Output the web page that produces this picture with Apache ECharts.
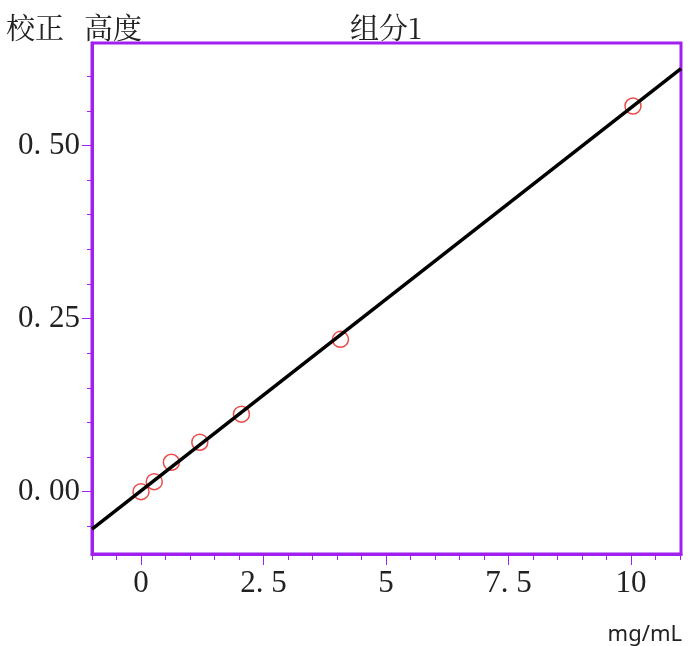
<!DOCTYPE html>
<html>
<head>
<meta charset="utf-8">
<script src="https://cdn.jsdelivr.net/npm/echarts@6/dist/echarts.min.js"></script>
<style>
html,body{margin:0;padding:0;background:#fff;}
#chart{width:690px;height:646px;}
</style>
</head>
<body>
<div id="chart"></div>
<script>
// ---- data ----
const concentration = [0, 0.27, 0.62, 1.2, 2.05, 4.07, 10.04];
const peakHeight = [0, 0.0145, 0.0425, 0.0714, 0.112, 0.220, 0.557];
const fitX = [-1, 11.02];
const fitY = [-0.054, 0.611];

const xMajorTicks = [0, 2.5, 5, 7.5, 10];
const xTickLabels = ['0', '2. 5', '5', '7. 5', '10'];
const xMinorTicks = [-1, -0.5, 0.5, 1, 1.5, 2, 3, 3.5, 4, 4.5, 5.5, 6, 6.5, 7, 8, 8.5, 9, 9.5, 10.5, 11];
const yMajorTicks = [0, 0.25, 0.5];
const yTickLabels = ['0. 00', '0. 25', '0. 50'];
const yMinorTicks = [-0.05, 0.05, 0.1, 0.15, 0.2, 0.3, 0.35, 0.4, 0.45, 0.55, 0.6];

const titleLeftA = '校正';
const titleLeftB = '高度';
const titleCenter = '组分1';
const unitLabel = 'mg/mL';

// ---- styles ----
const PURPLE = '#a020f0';
const xMin = -1, xMax = 11.02;
const yMin = -0.09, yMax = 0.648;
const tickFont = {fontFamily: '"Liberation Serif", "DejaVu Serif", serif', fontSize: 31, color: '#222'};
const cjkFont = '"Noto Serif CJK SC", "Noto Sans CJK SC", serif';

function labelFor(values, labels) {
  return function (v) {
    for (let i = 0; i < values.length; i++) {
      if (Math.abs(values[i] - v) < 1e-9) return labels[i];
    }
    return '';
  };
}

const chart = echarts.init(document.getElementById('chart'), null, {renderer: 'canvas'});
chart.setOption({
  animation: false,
  backgroundColor: '#fff',
  title: [
    {text: titleLeftA, left: 1, top: 8, textStyle: {fontFamily: cjkFont, fontSize: 29, fontWeight: 'normal', color: '#222'}},
    {text: titleLeftB, left: 79, top: 8, textStyle: {fontFamily: cjkFont, fontSize: 29, fontWeight: 'normal', color: '#222'}},
    {text: titleCenter, left: 345, top: 8, textStyle: {fontFamily: cjkFont, fontSize: 29, fontWeight: 'normal', color: '#222'}},
    {text: unitLabel, right: 3, top: 619, textStyle: {fontFamily: '"Noto Sans", sans-serif', fontSize: 22, fontWeight: 'normal', color: '#222'}}
  ],
  grid: {
    left: 92, right: 9, top: 43, bottom: 92,
    show: true, borderColor: PURPLE, borderWidth: 3, backgroundColor: 'transparent'
  },
  xAxis: [
    {
      type: 'value', min: xMin, max: xMax, position: 'bottom',
      axisLine: {show: true, onZero: false, lineStyle: {color: PURPLE, width: 3}},
      axisTick: {show: true, customValues: xMajorTicks, length: 11, lineStyle: {color: PURPLE, width: 1}},
      axisLabel: {show: true, customValues: xMajorTicks, margin: 14, formatter: labelFor(xMajorTicks, xTickLabels), ...tickFont},
      splitLine: {show: false}
    },
    {
      type: 'value', min: xMin, max: xMax, position: 'bottom',
      axisLine: {show: false, onZero: false},
      axisTick: {show: true, customValues: xMinorTicks, length: 6, lineStyle: {color: PURPLE, width: 1}},
      axisLabel: {show: false},
      splitLine: {show: false}
    }
  ],
  yAxis: [
    {
      type: 'value', min: yMin, max: yMax, position: 'left',
      axisLine: {show: true, onZero: false, lineStyle: {color: PURPLE, width: 3}},
      axisTick: {show: true, customValues: yMajorTicks, length: 10, lineStyle: {color: PURPLE, width: 1}},
      axisLabel: {show: true, customValues: yMajorTicks, margin: 12, formatter: labelFor(yMajorTicks, yTickLabels), ...tickFont},
      splitLine: {show: false}
    },
    {
      type: 'value', min: yMin, max: yMax, position: 'left',
      axisLine: {show: false, onZero: false},
      axisTick: {show: true, customValues: yMinorTicks, length: 5, lineStyle: {color: PURPLE, width: 1}},
      axisLabel: {show: false},
      splitLine: {show: false}
    }
  ],
  series: [
    {
      type: 'scatter', xAxisIndex: 0, yAxisIndex: 0, z: 2,
      symbol: 'circle', symbolSize: 16,
      itemStyle: {color: 'rgba(0,0,0,0)', borderColor: '#e61e1e', borderWidth: 1.5},
      data: concentration.map((x, i) => [x, peakHeight[i]])
    },
    {
      type: 'line', xAxisIndex: 0, yAxisIndex: 0, z: 3,
      showSymbol: false, symbol: 'none',
      lineStyle: {color: '#000', width: 3.5},
      data: fitX.map((x, i) => [x, fitY[i]])
    }
  ]
});
</script>
</body>
</html>
